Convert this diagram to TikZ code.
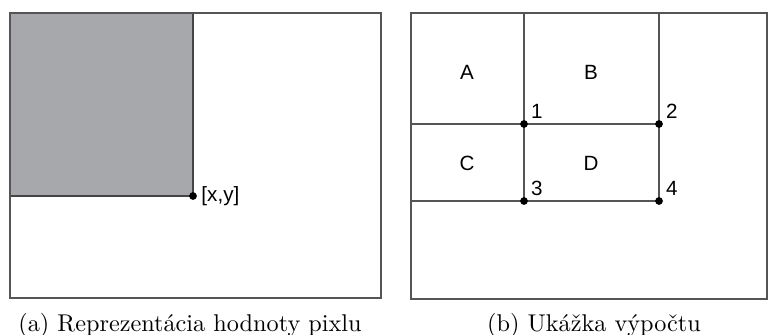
\documentclass[tikz,border=0pt]{standalone}
\usepackage{fontspec}
\newfontfamily\labelfont{Liberation Sans}
\usetikzlibrary{positioning}
\definecolor{frame}{RGB}{85,85,85}
\definecolor{pixgray}{RGB}{167,168,171}
\tikzset{
  pane/.style={draw=frame,line width=0.6pt},
  grid line/.style={draw=frame,line width=0.6pt},
  corner/.style={circle,fill=black,inner sep=0pt,minimum size=3.2pt},
  tag/.style={font=\labelfont\fontsize{8.5}{9}\selectfont,inner sep=1.2pt},
  caption/.style={font=\normalsize,inner sep=0pt},
}
\begin{document}
\begin{tikzpicture}[x=0.0145cm,y=-0.0145cm]
  \useasboundingbox (0,0) rectangle (768,335);
  % (a) pixel value
  \fill[pixgray,draw=frame!80!black,line width=0.6pt] (10,13) rectangle (193,196);
  \draw[pane] (10,13) rectangle (381,298);
  \node[corner] (xy) at (193,196) {};
  \node[tag,anchor=west] (xylab) at ([xshift=0.3pt]xy.east) {[x,y]};
  \node[caption] (capa) at (190,325) {(a) Reprezentácia hodnoty pixlu};
  % (b) computation
  \draw[pane] (411,13) rectangle (767,299);
  \coordinate (p1) at (524,124);
  \coordinate (p2) at (659,124);
  \coordinate (p3) at (524,201);
  \coordinate (p4) at (659,201);
  \draw[grid line] (524,13) -- (p1) -- (p3);
  \draw[grid line] (659,13) -- (p2) -- (p4);
  \draw[grid line] (411,124) -- (p1) -- (p2);
  \draw[grid line] (411,201) -- (p3) -- (p4);
  \foreach \i in {1,...,4}{
    \node[corner] (c\i) at (p\i) {};
    \node[tag,anchor=south west] (n\i) at ([xshift=1.5pt,yshift=0.8pt]c\i.center) {\i};
  }
  \node[tag] (A) at (467,72) {A};
  \node[tag] (B) at (591,72) {B};
  \node[tag] (C) at (467,163) {C};
  \node[tag] (D) at (591,163) {D};
  \node[caption] (capb) at (594,325) {(b) Ukážka výpočtu};
\end{tikzpicture}
\end{document}
